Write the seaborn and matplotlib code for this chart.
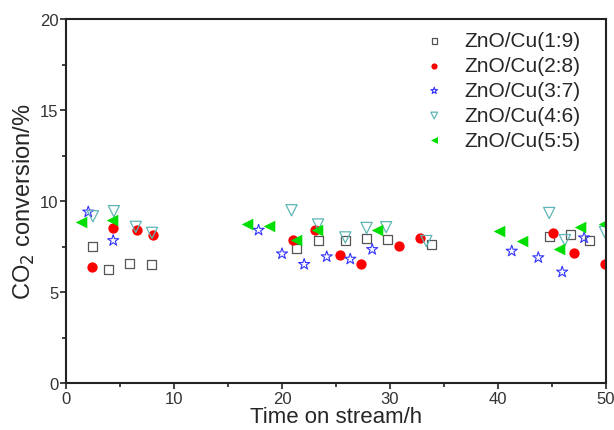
import numpy as np
import pandas as pd
import seaborn as sns
import matplotlib
matplotlib.use("Agg")
import matplotlib.pyplot as plt
from matplotlib.ticker import MultipleLocator

# ---- data ----
labels = ["ZnO/Cu(1:9)", "ZnO/Cu(2:8)", "ZnO/Cu(3:7)", "ZnO/Cu(4:6)", "ZnO/Cu(5:5)"]

t_19 = [2.46, 3.94, 5.9, 7.96, 21.37, 23.4, 25.89, 27.86, 29.73, 33.83, 44.74, 46.74, 48.43]
y_19 = [7.49, 6.21, 6.57, 6.52, 7.38, 7.83, 7.83, 7.92, 7.9, 7.61, 8.03, 8.16, 7.83]

t_28 = [2.43, 4.37, 6.61, 8.09, 21.03, 23.03, 25.34, 27.33, 30.81, 32.75, 45.05, 47.05, 49.9]
y_28 = [6.38, 8.52, 8.38, 8.14, 7.85, 8.38, 7.03, 6.52, 7.52, 7.98, 8.25, 7.16, 6.56]

t_37 = [2.06, 4.37, 17.83, 20.0, 22.05, 24.14, 26.32, 28.35, 41.27, 43.73, 45.94, 47.97]
y_37 = [9.4, 7.83, 8.4, 7.1, 6.52, 6.94, 6.81, 7.34, 7.25, 6.89, 6.1, 7.98]

t_46 = [2.49, 4.43, 6.46, 7.96, 20.88, 23.34, 25.86, 27.83, 29.64, 33.36, 44.74, 46.19, 49.9]
y_46 = [9.16, 9.44, 8.58, 8.25, 9.49, 8.71, 8.0, 8.52, 8.56, 7.8, 9.34, 7.85, 8.29]

t_55 = [1.35, 4.3, 16.76, 18.76, 21.34, 23.28, 28.75, 40.1, 42.19, 45.66, 47.63, 49.8]
y_55 = [8.83, 8.98, 8.74, 8.6, 7.85, 8.4, 8.43, 8.34, 7.83, 7.38, 8.56, 8.71]

xticks = [0, 10, 20, 30, 40, 50]
yticks = [0, 5, 10, 15, 20]

series = [
    (t_19, y_19, dict(marker="s", s=42, facecolors="none", edgecolors="#555555", linewidths=0.9)),
    (t_28, y_28, dict(marker="o", s=55, color="#ff0000", edgecolor="#ff0000", linewidth=0)),
    (t_37, y_37, dict(marker="*", s=70, facecolors="none", edgecolors="#3333ff", linewidths=0.8)),
    (t_46, y_46, dict(marker="v", s=65, facecolors="none", edgecolors="#5fb5b5", linewidths=0.9)),
    (t_55, y_55, dict(marker="<", s=70, color="#00dd00", edgecolor="#00dd00", linewidth=0)),
]

sns.set_style("ticks")
plt.rcParams["font.family"] = ["Liberation Sans", "DejaVu Sans"]

fig = plt.figure(figsize=(6.14, 4.31), dpi=100)
ax = fig.add_axes([0.1075, 0.1090, 0.8795, 0.8446])

for (t, y, kw), lab in zip(series, labels):
    df = pd.DataFrame({"t": t, "y": y})
    sns.scatterplot(data=df, x="t", y="y", ax=ax, label=lab, clip_on=True, **kw)

ax.set_xlim(0, 50)
ax.set_ylim(0, 20)
ax.set_xticks(xticks)
ax.set_yticks(yticks)
ax.xaxis.set_minor_locator(MultipleLocator(5))
ax.yaxis.set_minor_locator(MultipleLocator(2.5))
ax.tick_params(which="major", direction="out", length=4.5, width=1.2, labelsize=12,
               colors="#222222", labelcolor="#333333", pad=1)
ax.tick_params(which="minor", direction="out", length=3, width=1.2, colors="#222222")
for sp in ax.spines.values():
    sp.set_linewidth(1.5)
    sp.set_color("#222222")
    sp.set_visible(True)

ax.set_xlabel("Time on stream/h", fontsize=16, labelpad=0)
ax.set_ylabel("CO$_2$ conversion/%", fontsize=17, labelpad=2)

leg = ax.legend(loc="upper right", bbox_to_anchor=(0.976, 1.0), frameon=False, fontsize=15,
                markerscale=0.6, handletextpad=0.7, handlelength=1.5, labelspacing=0.28,
                borderaxespad=0.2)

fig.savefig("out.png", dpi=100)
